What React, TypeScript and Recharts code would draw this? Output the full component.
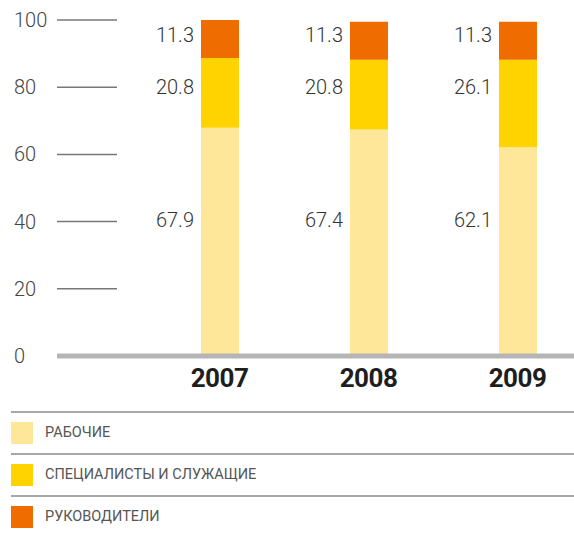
import { BarChart, Bar, XAxis, YAxis, LabelList } from "recharts";

const years = ["2007", "2008", "2009"];
const workers = [67.9, 67.4, 62.1];
const specialists = [20.8, 20.8, 26.1];
const managers = [11.3, 11.3, 11.3];
const yTicks = [0, 20, 40, 60, 80, 100];

const series = [
  { key: "workers", name: "РАБОЧИЕ", color: "#FEE798", values: workers, level: 40.5 },
  { key: "specialists", name: "СПЕЦИАЛИСТЫ И СЛУЖАЩИЕ", color: "#FFD300", values: specialists, level: 80 },
  { key: "managers", name: "РУКОВОДИТЕЛИ", color: "#EE6C00", values: managers, level: 95.5 },
];

const data = years.map((year, i) => ({
  year,
  workers: workers[i],
  specialists: specialists[i],
  managers: managers[i],
}));

const FONT = "Roboto, 'Noto Sans', sans-serif";

// stacked top value of a series for a given bar
function stackTop(seriesIndex: number, i: number) {
  let sum = 0;
  for (let s = 0; s <= seriesIndex; s++) sum += series[s].values[i];
  return sum;
}

function makeLabel(seriesIndex: number) {
  return (props: any) => {
    const vb = props.viewBox ?? props;
    const x = props.x ?? vb.x;
    const y = props.y ?? vb.y;
    const height = props.height ?? vb.height;
    const index = props.index;
    const v = series[seriesIndex].values[index];
    const top = height < 0 ? y + height : y;
    const h = Math.abs(height);
    const ly = top + ((stackTop(seriesIndex, index) - series[seriesIndex].level) * h) / v;
    return (
      <text
        x={x - 7}
        y={ly}
        textAnchor="end"
        dominantBaseline="central"
        fontFamily={FONT}
        fontWeight={300}
        fontSize={20}
        fill="#333"
      >
        {v.toFixed(1)}
      </text>
    );
  };
}

function YTick(props: any) {
  const { y, payload } = props;
  return (
    <g>
      <text
        x={14}
        y={y}
        dominantBaseline="central"
        fontFamily={FONT}
        fontWeight={300}
        fontSize={20}
        fill="#444"
      >
        {payload.value}
      </text>
      {payload.value !== 0 && <line x1={57} x2={117} y1={y} y2={y} stroke="#777" strokeWidth={1.5} />}
    </g>
  );
}

function XTick(props: any) {
  const { x, y, payload } = props;
  return (
    <text
      x={x}
      y={y}
      dy={23}
      textAnchor="middle"
      fontFamily={FONT}
      fontWeight={700}
      fontSize={26}
      letterSpacing={-0.5}
      fill="#1e1e1e"
    >
      {payload.value}
    </text>
  );
}

export default function App() {
  return (
    <div style={{ position: "absolute", left: 0, top: 0, width: 574, height: 534, background: "#fff" }}>
      <BarChart width={574} height={400} data={data} margin={{ top: 20, right: 0, bottom: 14, left: 0 }}>
        <YAxis
          domain={[0, 100]}
          ticks={yTicks}
          width={57}
          axisLine={false}
          tickLine={false}
          tick={<YTick />}
          interval={0}
        />
        <XAxis
          dataKey="year"
          axisLine={{ stroke: "#b5b5b5", strokeWidth: 5 }}
          tickLine={false}
          tick={<XTick />}
          padding={{ left: 88, right: -18 }}
        />
        {series.map((s, si) => (
          <Bar key={s.key} dataKey={s.key} stackId="a" fill={s.color} barSize={38} isAnimationActive={false}>
            <LabelList dataKey={s.key} content={makeLabel(si)} />
          </Bar>
        ))}
      </BarChart>
      <div style={{ position: "absolute", left: 11, top: 411, width: 563 }}>
        {series.map((s) => (
          <div key={s.key} style={{ borderTop: "2px solid #a8a8a8", height: 40, position: "relative" }}>
            <div
              style={{ position: "absolute", left: 0, top: 9, width: 22, height: 22, background: s.color }}
            />
            <div
              style={{
                position: "absolute",
                left: 34,
                top: 10,
                lineHeight: "20px",
                fontFamily: FONT,
                fontSize: 14.5,
                color: "#555",
              }}
            >
              {s.name}
            </div>
          </div>
        ))}
      </div>
    </div>
  );
}
